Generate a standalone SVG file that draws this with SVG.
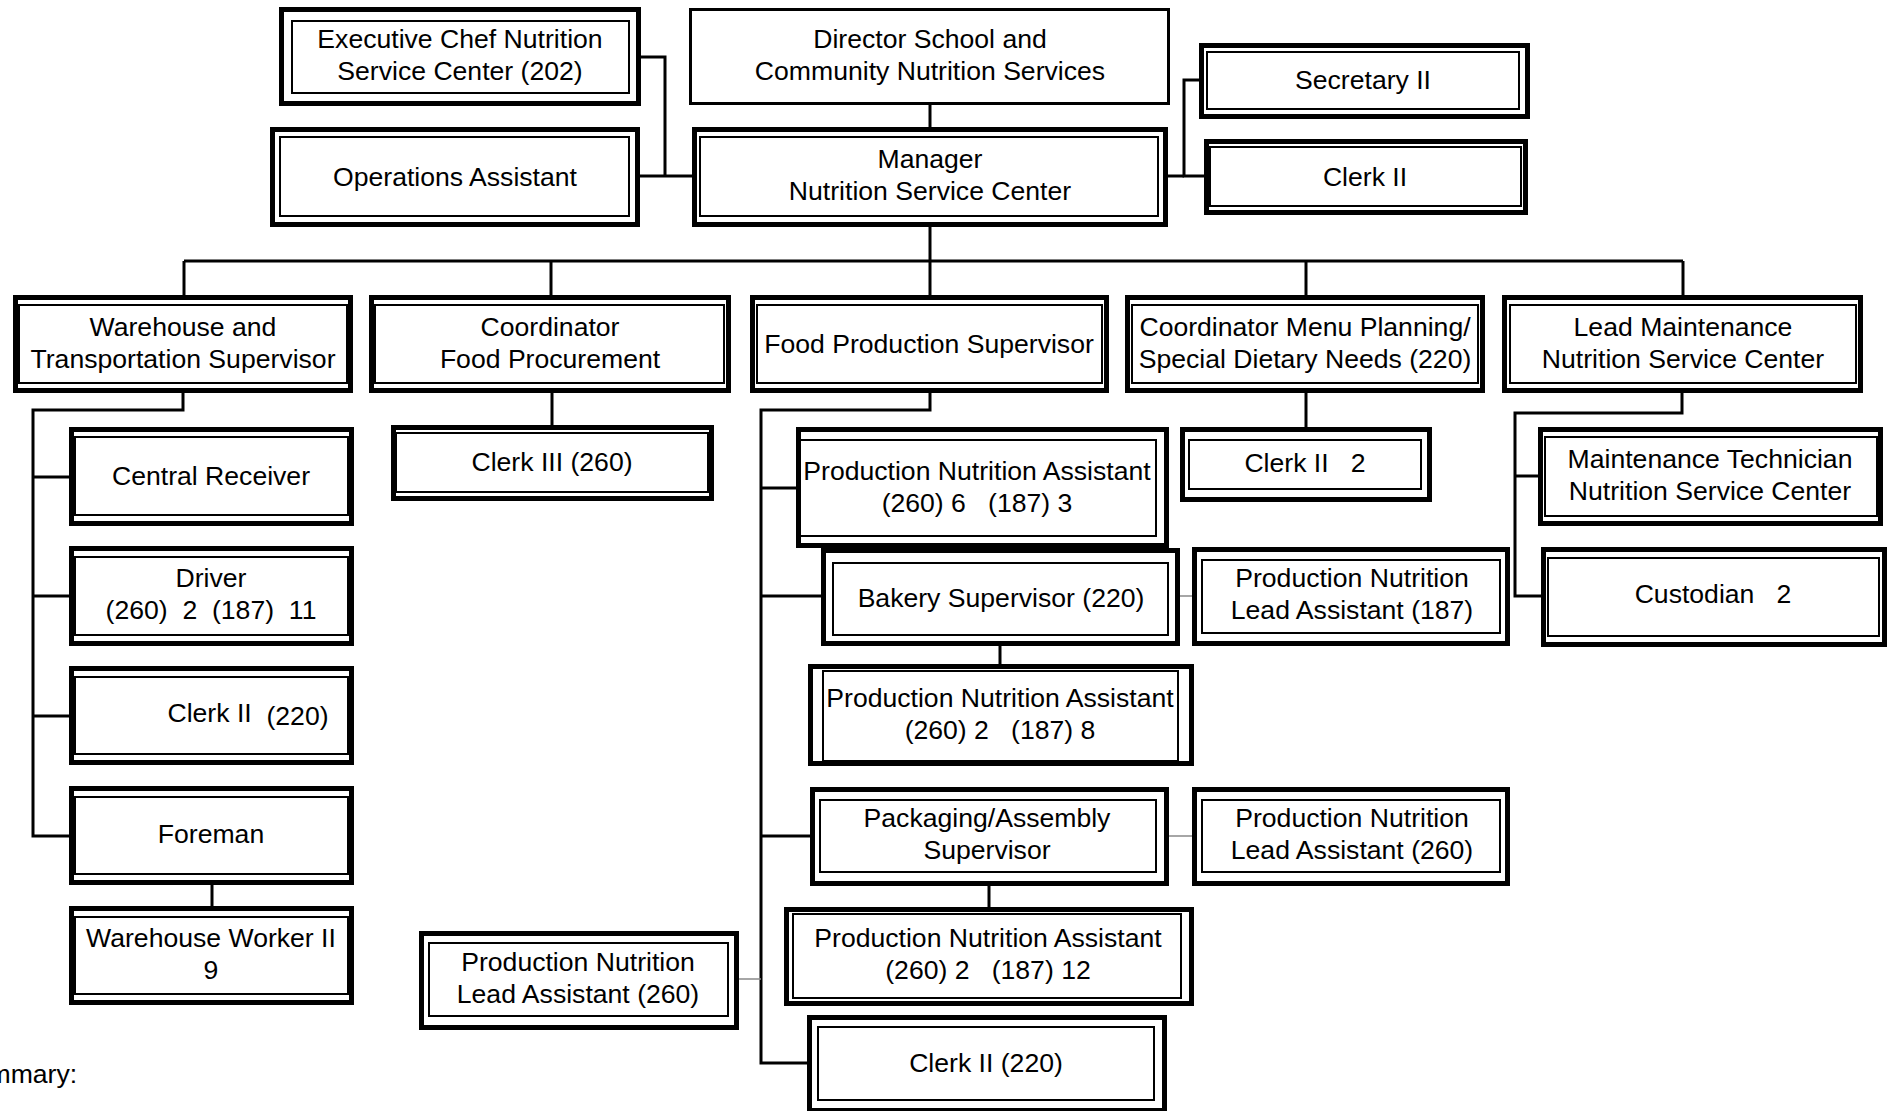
<svg xmlns="http://www.w3.org/2000/svg" width="1892" height="1111" viewBox="0 0 1892 1111">
<style>
.o{fill:#fff;stroke:#000;stroke-width:5}
.s{fill:#fff;stroke:#000;stroke-width:3}
.i{fill:none;stroke:#000;stroke-width:2}
.t{font-family:"Liberation Sans",Arial,sans-serif;font-size:26.6px;text-anchor:middle;fill:#000;white-space:pre}
.c{fill:none;stroke:#000;stroke-width:3}
.g{fill:none;stroke:#888;stroke-width:1.5}
</style>
<rect x="0" y="0" width="1892" height="1111" fill="#fff"/>
<g id="connectors">
<polyline class="c" points="641,57 665,57 665,176"/>
<line class="c" x1="640" y1="176" x2="692" y2="176"/>
<line class="c" x1="930" y1="105" x2="930" y2="127"/>
<polyline class="c" points="1199,80 1184,80 1184,176 1204,176"/>
<line class="c" x1="1168" y1="176" x2="1184" y2="176"/>
<line class="c" x1="930" y1="227" x2="930" y2="295"/>
<line class="c" x1="184" y1="261" x2="1683" y2="261"/>
<line class="c" x1="184" y1="261" x2="184" y2="295"/>
<line class="c" x1="551" y1="261" x2="551" y2="295"/>
<line class="c" x1="1306" y1="261" x2="1306" y2="295"/>
<line class="c" x1="1683" y1="261" x2="1683" y2="295"/>
<polyline class="c" points="183,393 183,410 33,410 33,836 69,836"/>
<line class="c" x1="33" y1="477" x2="69" y2="477"/>
<line class="c" x1="33" y1="596" x2="69" y2="596"/>
<line class="c" x1="33" y1="716" x2="69" y2="716"/>
<line class="c" x1="212" y1="885" x2="212" y2="906"/>
<line class="c" x1="552" y1="393" x2="552" y2="425"/>
<polyline class="c" points="930,393 930,410 761,410 761,1063 807,1063"/>
<line class="c" x1="761" y1="488" x2="796" y2="488"/>
<line class="c" x1="761" y1="596" x2="821" y2="596"/>
<line class="c" x1="761" y1="836" x2="810" y2="836"/>
<line class="c" x1="1000" y1="646" x2="1000" y2="664"/>
<line class="c" x1="989" y1="886" x2="989" y2="907"/>
<line class="g" x1="1180" y1="596" x2="1192" y2="596"/>
<line class="g" x1="1169" y1="836" x2="1192" y2="836"/>
<line class="g" x1="739" y1="979" x2="761" y2="979"/>
<line class="c" x1="1306" y1="393" x2="1306" y2="427"/>
<polyline class="c" points="1682,393 1682,413 1515,413 1515,596 1541,596"/>
<line class="c" x1="1515" y1="476" x2="1538" y2="476"/>
</g>
<g id="exec-chef"><rect class="o" x="281.5" y="9.5" width="357" height="94"/><rect class="i" x="292" y="21" width="337" height="72"/><text class="t" x="460" y="48">Executive Chef Nutrition</text><text class="t" x="460" y="80">Service Center (202)</text></g>
<g id="director"><rect class="s" x="690.5" y="9.5" width="478" height="94"/><text class="t" x="930" y="48">Director School and</text><text class="t" x="930" y="80">Community Nutrition Services</text></g>
<g id="manager"><rect class="o" x="694.5" y="129.5" width="471" height="95"/><rect class="i" x="700" y="137" width="458" height="79"/><text class="t" x="930" y="168">Manager</text><text class="t" x="930" y="200">Nutrition Service Center</text></g>
<g id="ops-assistant"><rect class="o" x="272.5" y="129.5" width="365" height="95"/><rect class="i" x="280" y="137" width="349" height="79"/><text class="t" x="455" y="186">Operations Assistant</text></g>
<g id="secretary"><rect class="o" x="1201.5" y="45.5" width="326" height="71"/><rect class="i" x="1207" y="52" width="312" height="57"/><text class="t" x="1363" y="89">Secretary II</text></g>
<g id="clerk-top"><rect class="o" x="1206.5" y="141.5" width="319" height="71"/><rect class="i" x="1210" y="147" width="311" height="59"/><text class="t" x="1365" y="186">Clerk II</text></g>
<g id="warehouse-sup"><rect class="o" x="15.5" y="297.5" width="335" height="93"/><rect class="i" x="19" y="305" width="328" height="78"/><text class="t" x="183" y="336">Warehouse and</text><text class="t" x="183" y="368">Transportation Supervisor</text></g>
<g id="coord-food"><rect class="o" x="371.5" y="297.5" width="357" height="93"/><rect class="i" x="375" y="305" width="349" height="78"/><text class="t" x="550" y="336">Coordinator</text><text class="t" x="550" y="368">Food Procurement</text></g>
<g id="food-prod-sup"><rect class="o" x="752.5" y="297.5" width="354" height="93"/><rect class="i" x="757" y="305" width="345" height="78"/><text class="t" x="929" y="353">Food Production Supervisor</text></g>
<g id="coord-menu"><rect class="o" x="1127.5" y="297.5" width="355" height="93"/><rect class="i" x="1132" y="305" width="346" height="78"/><text class="t" x="1305" y="336">Coordinator Menu Planning/</text><text class="t" x="1305" y="368">Special Dietary Needs (220)</text></g>
<g id="lead-maint"><rect class="o" x="1504.5" y="297.5" width="356" height="93"/><rect class="i" x="1510" y="305" width="346" height="78"/><text class="t" x="1683" y="336">Lead Maintenance</text><text class="t" x="1683" y="368">Nutrition Service Center</text></g>
<g id="central-receiver"><rect class="o" x="71.5" y="429.5" width="280" height="94"/><rect class="i" x="75" y="437" width="273" height="78"/><text class="t" x="211" y="485">Central Receiver</text></g>
<g id="driver"><rect class="o" x="71.5" y="548.5" width="280" height="95"/><rect class="i" x="75" y="557" width="273" height="78"/><text class="t" x="211" y="587">Driver</text><text class="t" x="211" y="619">(260)  2  (187)  11</text></g>
<g id="clerk-wh"><rect class="o" x="71.5" y="668.5" width="280" height="94"/><rect class="i" x="75" y="677" width="273" height="77"/><text class="t" x="248" y="722">Clerk II  <tspan dy="3">(220)</tspan></text></g>
<g id="foreman"><rect class="o" x="71.5" y="788.5" width="280" height="94"/><rect class="i" x="75" y="797" width="273" height="77"/><text class="t" x="211" y="843">Foreman</text></g>
<g id="warehouse-worker"><rect class="o" x="71.5" y="908.5" width="280" height="94"/><rect class="i" x="75" y="917" width="273" height="77"/><text class="t" x="211" y="947">Warehouse Worker II</text><text class="t" x="211" y="979">9</text></g>
<g id="clerk-iii"><rect class="o" x="393.5" y="427.5" width="318" height="71"/><rect class="i" x="396" y="433" width="312" height="59"/><text class="t" x="552" y="471">Clerk III (260)</text></g>
<g id="pna-63"><rect class="o" x="798.5" y="429.5" width="368" height="116"/><rect class="i" x="797" y="440" width="359" height="96"/><text class="t" x="977" y="480">Production Nutrition Assistant</text><text class="t" x="977" y="512">(260) 6   (187) 3</text></g>
<g id="bakery-sup"><rect class="o" x="823.5" y="550.5" width="354" height="93"/><rect class="i" x="833" y="563" width="335" height="72"/><text class="t" x="1001" y="607">Bakery Supervisor (220)</text></g>
<g id="pnla-187"><rect class="o" x="1194.5" y="549.5" width="313" height="94"/><rect class="i" x="1202" y="560" width="298" height="73"/><text class="t" x="1352" y="587">Production Nutrition</text><text class="t" x="1352" y="619">Lead Assistant (187)</text></g>
<g id="pna-28"><rect class="o" x="810.5" y="666.5" width="381" height="97"/><rect class="i" x="823" y="671" width="355" height="90"/><text class="t" x="1000" y="707">Production Nutrition Assistant</text><text class="t" x="1000" y="739">(260) 2   (187) 8</text></g>
<g id="packaging-sup"><rect class="o" x="812.5" y="789.5" width="354" height="94"/><rect class="i" x="820" y="800" width="336" height="72"/><text class="t" x="987" y="827">Packaging/Assembly</text><text class="t" x="987" y="859">Supervisor</text></g>
<g id="pnla-260-right"><rect class="o" x="1194.5" y="789.5" width="313" height="94"/><rect class="i" x="1202" y="800" width="298" height="72"/><text class="t" x="1352" y="827">Production Nutrition</text><text class="t" x="1352" y="859">Lead Assistant (260)</text></g>
<g id="pna-212"><rect class="o" x="786.5" y="909.5" width="405" height="94"/><rect class="i" x="793" y="914" width="388" height="84"/><text class="t" x="988" y="947">Production Nutrition Assistant</text><text class="t" x="988" y="979">(260) 2   (187) 12</text></g>
<g id="clerk-fp"><rect class="o" x="809.5" y="1017.5" width="355" height="93"/><rect class="i" x="818" y="1027" width="336" height="73"/><text class="t" x="986" y="1072">Clerk II (220)</text></g>
<g id="pnla-260-left"><rect class="o" x="421.5" y="933.5" width="315" height="94"/><rect class="i" x="429" y="943" width="299" height="73"/><text class="t" x="578" y="971">Production Nutrition</text><text class="t" x="578" y="1003">Lead Assistant (260)</text></g>
<g id="clerk-menu"><rect class="o" x="1182.5" y="429.5" width="247" height="70"/><rect class="i" x="1189" y="440" width="232" height="49"/><text class="t" x="1305" y="472">Clerk II   2</text></g>
<g id="maint-tech"><rect class="o" x="1540.5" y="429.5" width="340" height="94"/><rect class="i" x="1545" y="437" width="332" height="79"/><text class="t" x="1710" y="468">Maintenance Technician</text><text class="t" x="1710" y="500">Nutrition Service Center</text></g>
<g id="custodian"><rect class="o" x="1543.5" y="549.5" width="341" height="95"/><rect class="i" x="1548" y="558" width="331" height="78"/><text class="t" x="1713" y="603">Custodian   2</text></g>
<text x="-44" y="1083" style="font-family:'Liberation Sans',Arial,sans-serif;font-size:26.6px;fill:#000">Summary:</text>
</svg>
